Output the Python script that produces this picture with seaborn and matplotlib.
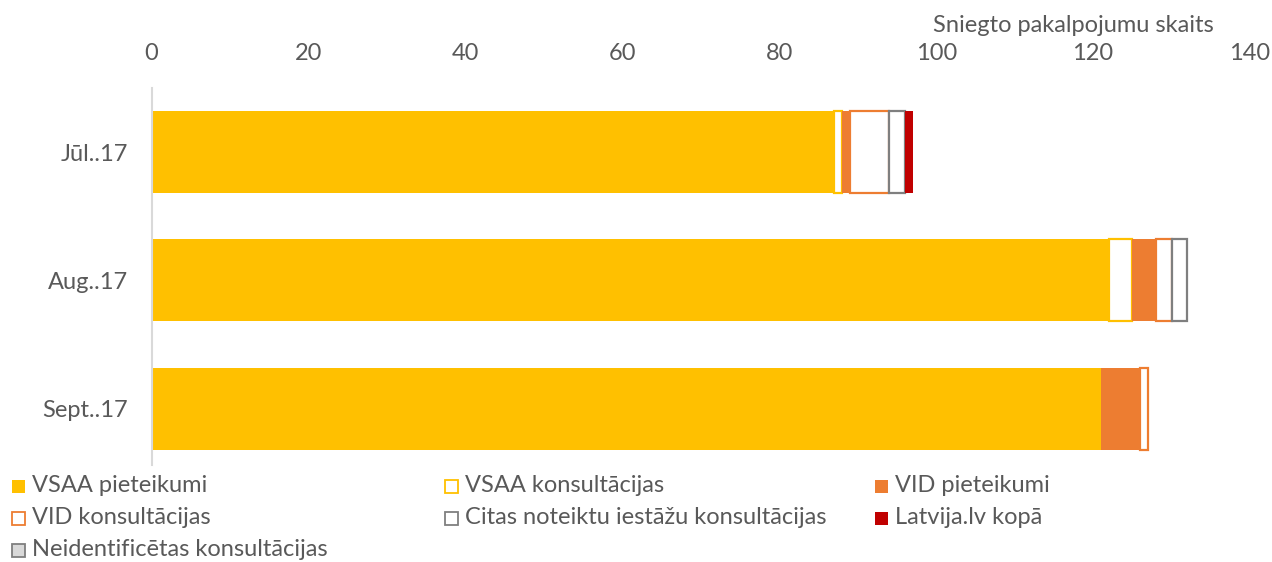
import numpy as np
import pandas as pd
import matplotlib
matplotlib.use("Agg")
import matplotlib.pyplot as plt
from matplotlib.patches import Rectangle
import seaborn as sns

months = ["Jūl..17", "Aug..17", "Sept..17"]
vsaa_pieteikumi = [87, 122, 121]
vsaa_konsultacijas = [1, 3, 0]
vid_pieteikumi = [1, 3, 5]
vid_konsultacijas = [5, 2, 1]
citas_konsultacijas = [2, 2, 0]
latvija_kopa = [1, 0, 0]
neidentificetas = [0, 0, 0]

series_names = ["VSAA pieteikumi", "VSAA konsultācijas", "VID pieteikumi",
                "VID konsultācijas", "Citas noteiktu iestāžu konsultācijas",
                "Latvija.lv kopā", "Neidentificētas konsultācijas"]
series_values = [vsaa_pieteikumi, vsaa_konsultacijas, vid_pieteikumi,
                 vid_konsultacijas, citas_konsultacijas, latvija_kopa, neidentificetas]
# (face, edge)
styles = [("#FFC000", "#FFC000"), ("white", "#FFC000"), ("#ED7D31", "#ED7D31"),
          ("white", "#ED7D31"), ("white", "#7F7F7F"), ("#C00000", "#C00000"),
          ("#D9D9D9", "#7F7F7F")]

sns.set_theme(style="white")
plt.rcParams["font.family"] = ["Lato", "DejaVu Sans"]
TXT = "#595959"
FS = 17

fig = plt.figure(figsize=(12.72, 5.62), dpi=100)
ax = fig.add_axes([151.5 / 1272, 1 - 465 / 562, (1250 - 151.5) / 1272, (465 - 88) / 562])

left = np.zeros(len(months))
for name, vals, (fc, ec) in zip(series_names, series_values, styles):
    vals = np.array(vals, dtype=float)
    df = pd.DataFrame({"month": months, "value": vals, "left": left.copy()})
    df = df[df["value"] > 0]
    if len(df):
        sns.barplot(data=df, x="value", y="month", order=months, orient="y",
                    color=fc, saturation=1, errorbar=None, width=0.64,
                    left=df["left"].values, edgecolor=ec,
                    linewidth=1.6 if fc in ("white", "#D9D9D9") else 0,
                    ax=ax)
    left = left + vals

ax.set_xlim(0, 140)
ax.set_xticks(np.arange(0, 141, 20))
ax.set_ylim(2.44, -0.5)
ax.xaxis.tick_top()
ax.set_xlabel("")
ax.set_ylabel("")
ax.tick_params(axis="x", length=0, pad=17, labelsize=FS, labelcolor=TXT)
ax.tick_params(axis="y", length=0, pad=17, labelsize=FS, labelcolor=TXT)
for s in ["top", "right", "bottom"]:
    ax.spines[s].set_visible(False)
ax.spines["left"].set_color("#D9D9D9")
ax.spines["left"].set_linewidth(1.5)
ax.grid(False)

fig.text(1073 / 1272, 1 - 25 / 562, "Sniegto pakalpojumu skaits",
         ha="center", va="center", fontsize=FS, color=TXT)

# legend (row-major, 3 columns)
col_x = [12, 445, 875]
row_y = [486, 518, 550]
msize = 13
for i, (name, (fc, ec)) in enumerate(zip(series_names, styles)):
    r, c = divmod(i, 3)
    x0 = col_x[c]
    yc = row_y[r]
    lw = 1.3 if fc in ("white", "#D9D9D9") else 0
    rect = Rectangle((x0 / 1272, 1 - (yc + msize / 2) / 562), msize / 1272, msize / 562,
                     transform=fig.transFigure, facecolor=fc, edgecolor=ec, linewidth=lw)
    fig.add_artist(rect)
    fig.text((x0 + msize + 7) / 1272, 1 - yc / 562, name, ha="left", va="center",
             fontsize=FS, color=TXT)

fig.savefig("out.png", dpi=100)
